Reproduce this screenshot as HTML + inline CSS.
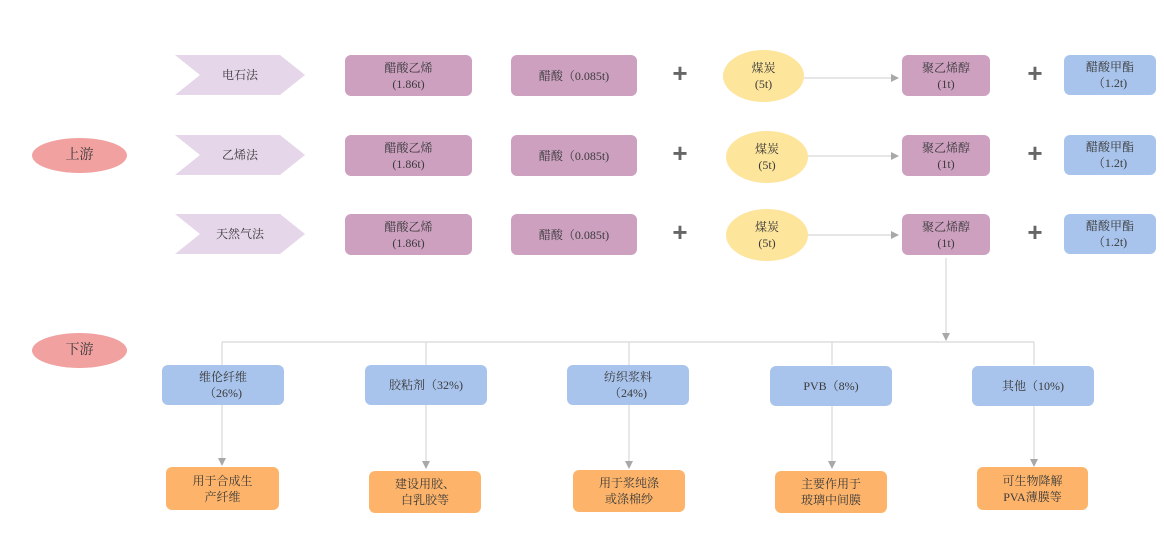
<!DOCTYPE html>
<html><head><meta charset="utf-8"><style>
body{margin:0;width:1164px;height:535px;background:#fff;position:relative;overflow:hidden;font-family:"Liberation Serif","Noto Serif CJK SC",serif;color:#3a3a3a}
.b{position:absolute;display:flex;align-items:center;justify-content:center;text-align:center;font-size:12px;line-height:16px;border-radius:6px}
.p{background:#cda0c0}
.bl{background:#a9c4ec}
.o{background:#fdb46a}
.y{background:#fde59b;border-radius:50%}
.r{background:#f1a1a0;border-radius:50%;font-size:14px}
.plus{position:absolute;font:bold 26px "Liberation Sans",sans-serif;color:#666;width:20px;text-align:center}
</style></head><body>
<svg width="1164" height="535" style="position:absolute;left:0;top:0">
<defs><marker id="a" markerWidth="8" markerHeight="8" refX="7" refY="4" orient="auto" markerUnits="userSpaceOnUse"><path d="M0,0 L8,4 L0,8z" fill="#a8a8a8"/></marker></defs>
<g fill="#e5d6e9">
<polygon points="175,55 280,55 305,75 280,95 175,95 200,75"/>
<polygon points="175,135 280,135 305,155 280,175 175,175 200,155"/>
<polygon points="175,214 280,214 305,234 280,254 175,254 200,234"/>
</g>
<g stroke="#d8d8d8" stroke-width="1.2" fill="none">
<line x1="804" y1="78" x2="898" y2="78" marker-end="url(#a)"/>
<line x1="808" y1="156" x2="898" y2="156" marker-end="url(#a)"/>
<line x1="808" y1="235" x2="898" y2="235" marker-end="url(#a)"/>
<line x1="946" y1="258" x2="946" y2="340" marker-end="url(#a)"/>
<line x1="222" y1="342" x2="1034" y2="342"/>
<line x1="222" y1="342" x2="222" y2="365"/><line x1="426" y1="342" x2="426" y2="365"/><line x1="629" y1="342" x2="629" y2="365"/><line x1="832" y1="342" x2="832" y2="365"/><line x1="1034" y1="342" x2="1034" y2="365"/>
<line x1="222" y1="405" x2="222" y2="465" marker-end="url(#a)"/>
<line x1="426" y1="405" x2="426" y2="468" marker-end="url(#a)"/>
<line x1="629" y1="405" x2="629" y2="468" marker-end="url(#a)"/>
<line x1="832" y1="405" x2="832" y2="468" marker-end="url(#a)"/>
<line x1="1034" y1="405" x2="1034" y2="466" marker-end="url(#a)"/>
</g></svg>
<div class="b" style="left:200px;top:55px;width:80px;height:40px">电石法</div>
<div class="b" style="left:200px;top:135px;width:80px;height:40px">乙烯法</div>
<div class="b" style="left:200px;top:214px;width:80px;height:40px">天然气法</div>
<div class="b r" style="left:32px;top:138px;width:95px;height:35px">上游</div>
<div class="b r" style="left:32px;top:333px;width:95px;height:35px">下游</div>

<div class="b p" style="left:345px;top:55px;width:127px;height:41px">醋酸乙烯<br>(1.86t)</div>
<div class="b p" style="left:345px;top:135px;width:127px;height:41px">醋酸乙烯<br>(1.86t)</div>
<div class="b p" style="left:345px;top:214px;width:127px;height:41px">醋酸乙烯<br>(1.86t)</div>
<div class="b p" style="left:511px;top:55px;width:126px;height:41px">醋酸（0.085t)</div>
<div class="b p" style="left:511px;top:135px;width:126px;height:41px">醋酸（0.085t)</div>
<div class="b p" style="left:511px;top:214px;width:126px;height:41px">醋酸（0.085t)</div>
<div class="plus" style="left:670px;top:58px">+</div>
<div class="plus" style="left:670px;top:138px">+</div>
<div class="plus" style="left:670px;top:217px">+</div>
<div class="b y" style="left:723px;top:50px;width:81px;height:52px">煤炭<br>(5t)</div>
<div class="b y" style="left:726px;top:131px;width:82px;height:52px">煤炭<br>(5t)</div>
<div class="b y" style="left:726px;top:209px;width:82px;height:52px">煤炭<br>(5t)</div>
<div class="b p" style="left:902px;top:55px;width:88px;height:41px">聚乙烯醇<br>(1t)</div>
<div class="b p" style="left:902px;top:135px;width:88px;height:41px">聚乙烯醇<br>(1t)</div>
<div class="b p" style="left:902px;top:214px;width:88px;height:41px">聚乙烯醇<br>(1t)</div>
<div class="plus" style="left:1025px;top:58px">+</div>
<div class="plus" style="left:1025px;top:138px">+</div>
<div class="plus" style="left:1025px;top:217px">+</div>
<div class="b bl" style="left:1064px;top:55px;width:92px;height:40px">醋酸甲酯<br>（1.2t)</div>
<div class="b bl" style="left:1064px;top:135px;width:92px;height:40px">醋酸甲酯<br>（1.2t)</div>
<div class="b bl" style="left:1064px;top:214px;width:92px;height:40px">醋酸甲酯<br>（1.2t)</div>

<div class="b bl" style="left:162px;top:365px;width:122px;height:40px">维伦纤维<br>（26%)</div>
<div class="b bl" style="left:365px;top:365px;width:122px;height:40px">胶粘剂（32%)</div>
<div class="b bl" style="left:567px;top:365px;width:122px;height:40px">纺织浆料<br>（24%)</div>
<div class="b bl" style="left:770px;top:366px;width:122px;height:40px">PVB（8%)</div>
<div class="b bl" style="left:972px;top:366px;width:122px;height:40px">其他（10%)</div>

<div class="b o" style="left:166px;top:467px;width:113px;height:43px">用于合成生<br>产纤维</div>
<div class="b o" style="left:369px;top:471px;width:112px;height:42px">建设用胶、<br>白乳胶等</div>
<div class="b o" style="left:573px;top:470px;width:112px;height:42px">用于浆纯涤<br>或涤棉纱</div>
<div class="b o" style="left:775px;top:471px;width:112px;height:42px">主要作用于<br>玻璃中间膜</div>
<div class="b o" style="left:977px;top:467px;width:111px;height:43px">可生物降解<br>PVA薄膜等</div>
</body></html>
